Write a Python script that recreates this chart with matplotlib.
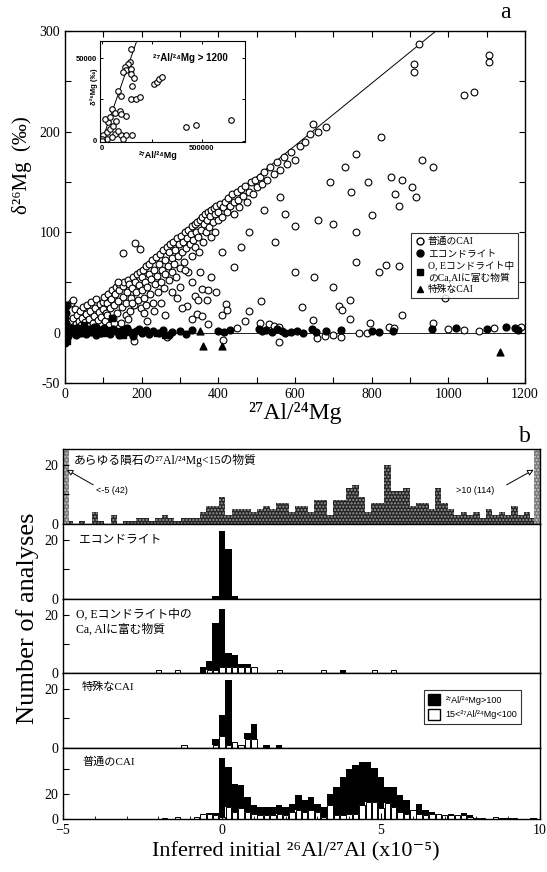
import numpy as np
import matplotlib
matplotlib.use("Agg")
import matplotlib.pyplot as plt
from matplotlib.lines import Line2D
from matplotlib.patches import Patch

SERIF = ['Liberation Serif', 'DejaVu Serif', 'Noto Sans CJK JP']
SANS = ['Liberation Sans', 'DejaVu Sans', 'Noto Sans CJK JP']
plt.rcParams['font.family'] = SERIF

# ---------------- panel a data ----------------
slope_main = 0.31       # isochron drawn in panel a
slope_inset = 0.347

cai_pts = [  # normal CAI (open circles)
    (5, 2), (8, 8), (12, 4), (14, 12), (15, 30), (18, 6), (20, 33), (22, 15), (25, 24), (28, 9),
    (30, 18), (33, 6), (36, 12), (38, 22), (42, 8), (45, 15), (48, 26), (50, 4), (52, 11), (55, 19),
    (58, 28), (60, 7), (63, 14), (66, 22), (68, 31), (72, 10), (75, 17), (78, 25), (80, 34), (82, 6),
    (85, 13), (88, 21), (90, 29), (95, 16), (98, 31), (100, 24),
    (102, 36), (105, 12), (108, 20), (110, 30), (112, 38), (115, 8), (118, 25), (120, 34), (122, 42),
    (125, 15), (128, 28), (130, 38), (132, 45), (135, 20), (138, 32), (140, 42), (142, 48), (145, 10),
    (148, 26), (150, 36), (152, 46), (155, 50), (158, 18), (160, 30), (162, 40), (165, 52), (168, 48),
    (170, 22), (172, 35), (175, 44), (178, 55), (180, 28), (182, 50), (185, 40), (188, 58), (190, 33),
    (192, 47), (195, 60), (198, 25), (200, 42), (200, 55),
    (203, 62), (205, 35), (208, 50), (210, 66), (212, 28), (215, 45), (218, 58), (220, 68), (222, 38),
    (225, 53), (228, 72), (230, 30), (232, 62), (235, 48), (238, 75), (240, 56), (242, 40), (245, 68),
    (248, 78), (250, 50), (252, 62), (255, 82), (258, 44), (260, 72), (262, 58), (265, 85), (268, 66),
    (270, 52), (272, 80), (275, 88), (278, 60), (280, 74), (282, 90), (285, 68), (288, 82), (290, 55),
    (292, 94), (295, 76), (298, 88), (300, 64),
    (302, 96), (305, 80), (308, 90), (310, 70), (312, 100), (315, 84), (318, 94), (320, 60), (322, 102),
    (325, 88), (328, 98), (330, 76), (332, 106), (335, 92), (338, 108), (340, 85), (342, 100), (345, 110),
    (348, 95), (350, 80), (352, 112), (355, 102), (358, 115), (360, 90), (362, 108), (365, 118), (368, 100),
    (370, 112), (372, 120), (375, 105), (378, 116), (380, 95), (382, 122), (385, 110), (388, 124), (390, 100),
    (392, 118), (395, 126), (398, 112), (400, 120),
    (405, 128), (410, 115), (412, 125), (418, 130), (422, 120), (425, 134), (430, 126), (435, 138),
    (440, 118), (442, 130), (448, 140), (452, 132), (455, 125), (460, 143), (465, 136), (470, 146),
    (475, 130), (480, 140), (485, 150), (490, 138), (495, 152), (500, 145), (508, 155), (515, 148),
    (520, 160), (528, 152), (535, 165), (545, 158), (552, 170), (560, 162), (570, 175), (580, 168),
    (590, 180), (600, 172), (612, 186), (625, 190), (640, 198), (661, 200), (680, 205),
    (152, 79), (183, 89), (196, 83), (440, 65), (548, 90), (838, 67), (313, 62), (352, 60), (292, 35),
    (318, 27), (339, 37), (348, 33), (357, 43), (374, 42), (370, 33), (344, 19), (357, 17), (374, 9),
    (409, 18), (419, 29), (422, 23), (448, 5), (470, 12), (481, 22), (512, 32), (618, 26), (648, 13),
    (714, 27), (722, 23), (744, 33), (744, 14), (796, 10), (559, -9), (413, -7), (657, -5), (679, -3),
    (700, -2), (720, -4), (180, -8), (265, -4), (768, 0), (788, 0), (844, 6), (857, 5), (509, 10),
    (531, 9), (544, 7), (557, 6),
    (924, 287), (911, 267), (911, 259), (1107, 276), (1107, 269), (1068, 239), (1040, 236), (648, 208),
    (825, 195), (760, 178), (730, 165), (690, 150), (660, 112), (700, 108), (745, 140), (760, 100),
    (790, 150), (800, 117), (850, 155), (860, 138), (872, 126), (880, 152), (905, 145), (915, 135),
    (930, 172), (960, 165), (990, 35), (600, 106), (575, 118), (560, 135), (520, 122), (480, 100),
    (460, 85), (600, 60), (650, 55), (700, 45), (760, 70), (820, 60), (870, 66), (880, 18), (960, 10),
    (1000, 4), (1040, 3), (1080, 2), (1120, 5), (1190, 6),
    (110, 18), (128, 10), (138, 50), (165, 14), (176, 30), (205, 20), (215, 12), (232, 22), (250, 30),
    (262, 18), (278, 40), (300, 45), (305, 25), (330, 50), (332, 14), (380, 55), (395, 40), (410, 80),
]

achon_pts = [  # achondrites (filled circles)
    (0, -10), (2, -5), (1, 5), (3, 10), (0, 15), (2, 20), (1, 25), (4, 28),
    (2, 0), (8, -3), (15, 4), (22, 1), (28, -2), (35, 5), (42, 0), (48, 3), (55, -1), (62, 4),
    (68, 1), (75, 6), (82, -2), (88, 3), (95, 0), (102, 5), (110, 1), (118, -1), (125, 4), (132, 2),
    (140, -2), (148, 3), (155, 0), (162, 5), (170, 1), (178, -3), (185, 2), (192, 4), (200, 0),
    (210, 3), (220, -1), (230, 2), (245, 0), (255, 3), (270, -2), (280, 1), (300, 2), (315, -1),
    (330, 3), (400, 2), (415, 1), (430, 3), (505, 4), (515, 2), (525, 3), (540, 1), (552, 4),
    (565, 2), (575, 0), (590, 1), (605, 2), (620, 0), (645, 4), (655, 1), (680, 2), (720, 3),
    (800, 2), (818, 1), (855, 2), (958, 4), (1020, 5), (1100, 4), (1150, 6), (1175, 5), (1183, 3),
]

oe_pts = [  # O, E chondrite Ca-Al rich objects (filled squares)
    (5, -8), (10, 2), (20, 5), (30, 0), (40, 3), (50, 8), (60, 2), (80, 5), (100, 0),
    (120, 3), (122, 15), (150, -2), (240, 0), (260, -2),
]

special_pts = [(361, -13), (410, -13), (353, 2), (1136, -19)]  # special CAI (triangles)

inset_pts = [
    (143600, 55700), (138600, 47800), (130300, 46800), (113900, 44800), (122100, 42800),
    (146800, 43800), (105700, 41800), (146800, 40500), (158400, 37900), (151800, 32900),
    (80900, 29900), (97400, 27000), (146800, 25400), (168300, 25400), (193100, 26600),
    (262400, 34500), (275600, 35900), (287100, 37300), (303500, 38900), (48000, 19000),
    (64400, 17100), (89100, 18000), (122100, 15100), (97400, 16100), (424000, 8100),
    (473500, 9500), (650000, 12700), (6600, 3200), (23100, 5200), (39600, 7100), (56100, 9100),
    (31300, 11100), (14900, 13100), (39600, 14100), (72600, 12100), (64400, 4200), (97400, 3200),
    (122100, 3600), (151800, 3600), (105700, 1200), (80900, 6100), (23100, 1200), (1000, 1200),
    (47800, 2200), (2000, 0),
]

# ---------------- panel b data (bin centres -5.0 ... 10.0, step 0.2) ----------------
bin_centres = np.round(np.arange(76) * 0.2 - 5.0, 1)

all_low = [42, 1, 0, 1, 0, 4, 1, 0, 3, 0, 1, 1, 2, 2, 1, 2, 3, 2, 1, 2,
           2, 2, 4, 6, 6, 9, 3, 5, 5, 5, 4, 5, 6, 5, 7, 7, 4, 6, 6, 4,
           8, 8, 3, 8, 8, 12, 13, 9, 4, 7, 7, 20, 11, 11, 12, 6, 7, 7, 5, 12,
           7, 5, 3, 4, 3, 4, 2, 5, 3, 4, 3, 6, 3, 4, 2, 114]

achon_x = [-0.2, 0.0, 0.2, 0.4]
achon_black = [1, 23, 17, 1]

oe_x = [-2.0, -1.4, -0.6, -0.4, -0.2, 0.0, 0.2, 0.4, 0.6, 0.8, 1.0, 1.8, 3.2, 3.8, 4.8, 5.4]
oe_white = [1, 1, 0, 1, 1, 2, 2, 2, 2, 2, 2, 1, 1, 0, 1, 1]
oe_black = [0, 0, 2, 3, 16, 20, 5, 4, 1, 1, 0, 0, 0, 1, 0, 0]

spec_x = [-1.2, -0.2, 0.0, 0.2, 0.4, 0.6, 0.8, 1.0, 1.4, 1.8]
spec_white = [1, 1, 4, 1, 2, 1, 3, 3, 0, 0]
spec_black = [0, 2, 7, 22, 0, 0, 2, 5, 1, 1]

norm_x = [-1.8, -1.4, -0.8, -0.6, -0.4, -0.2, 0.0, 0.2, 0.4, 0.6, 0.8, 1.0, 1.2, 1.4, 1.6, 1.8,
          2.0, 2.2, 2.4, 2.6, 2.8, 3.0, 3.2, 3.4, 3.6, 3.8, 4.0, 4.2, 4.4, 4.6, 4.8, 5.0,
          5.2, 5.4, 5.6, 5.8, 6.0, 6.2, 6.4, 6.6, 6.8, 7.0, 7.2, 7.4, 7.6, 7.8, 8.0, 8.2,
          8.6, 8.8, 9.0, 9.2, 9.8]
norm_white = [1, 2, 2, 4, 4, 3, 2, 10, 6, 9, 6, 4, 3, 3, 3, 4,
              3, 6, 7, 6, 7, 6, 2, 11, 3, 3, 4, 4, 11, 14, 14, 9,
              13, 10, 6, 4, 7, 4, 3, 4, 4, 3, 3, 3, 3, 2, 1, 1,
              2, 1, 1, 1, 0]
norm_black = [0, 0, 0, 0, 1, 2, 47, 32, 22, 18, 12, 7, 7, 7, 7, 7,
              7, 6, 12, 9, 11, 6, 8, 9, 23, 31, 36, 39, 35, 32, 27, 25,
              13, 16, 13, 11, 0, 8, 4, 2, 0, 0, 1, 0, 2, 1, 0, 0,
              0, 0, 0, 0, 1]

# ---------------- figure ----------------
W, H = 547, 872
fig = plt.figure(figsize=(W / 100, H / 100), dpi=100)


def fig_rect(x0, y0, x1, y1):
    return [x0 / W, 1 - y1 / H, (x1 - x0) / W, (y1 - y0) / H]


# panel a
ax = fig.add_axes(fig_rect(65, 31, 525, 383))
ax.set_xlim(0, 1200)
ax.set_ylim(-50, 300)
ax.plot([0, 1200], [0, slope_main * 1200], color='black', lw=0.7, zorder=1)
ax.axhline(0, color='black', lw=0.6, zorder=1)

p = np.array(cai_pts)
ax.scatter(p[:, 0], p[:, 1], s=24, facecolor='white', edgecolor='black', lw=0.8, zorder=2)
p = np.array(achon_pts)
ax.scatter(p[:, 0], p[:, 1], s=24, color='black', zorder=3)
p = np.array(oe_pts)
ax.scatter(p[:, 0], p[:, 1], s=24, marker='s', color='black', zorder=3)
p = np.array(special_pts)
ax.scatter(p[:, 0], p[:, 1], s=24, marker='^', color='black', zorder=3)

ax.set_xticks(np.arange(0, 1201, 100))
ax.set_xticklabels([str(v) if v % 200 == 0 else '' for v in range(0, 1201, 100)])
ax.set_yticks(np.arange(-50, 301, 50))
ax.set_yticklabels(['-50', '0', '', '100', '', '200', '', '300'])
ax.tick_params(direction='in', top=True, right=True, labelsize=10, length=4, width=0.8)
for s in ax.spines.values():
    s.set_linewidth(1.0)

leg_handles = [
    Line2D([], [], ls='none', marker='o', mfc='white', mec='black', ms=5),
    Line2D([], [], ls='none', marker='o', color='black', ms=5),
    Line2D([], [], ls='none', marker='s', color='black', ms=5),
    Line2D([], [], ls='none', marker='^', color='black', ms=5),
]
leg_labels = ['普通のCAI', 'エコンドライト', 'O, Eコンドライト中\nのCa,Alに富む物質', '特殊なCAI']
leg = ax.legend(leg_handles, leg_labels, loc='upper right', bbox_to_anchor=(0.995, 0.44),
                prop={'family': SERIF, 'size': 7}, frameon=True, fancybox=False,
                handletextpad=0.3, handlelength=1.0, labelspacing=0.3, borderpad=0.4)
leg.get_frame().set_edgecolor('black')
leg.get_frame().set_linewidth(0.8)

fig.text(0.04, 1 - 165 / H, 'δ²⁶Mg  (‰)', rotation=90, ha='center', va='center', fontsize=15)
fig.text(0.54, 1 - 413 / H, '²⁷Al/²⁴Mg', ha='center', va='center', fontsize=17)
fig.text(505 / W, 1 - 12 / H, 'a', ha='center', va='center', fontsize=17)
fig.text(525 / W, 1 - 437 / H, 'b', ha='center', va='center', fontsize=17)

# inset
axi = fig.add_axes(fig_rect(100, 41, 245, 142))
axi.set_xlim(-10000, 718000)
axi.set_ylim(-800, 60500)
axi.plot([0, 200000], [0, slope_inset * 200000], color='black', lw=0.7)
p = np.array(inset_pts)
axi.scatter(p[:, 0], p[:, 1], s=16, facecolor='white', edgecolor='black', lw=0.8, zorder=2)
axi.set_xticks([0, 250000, 500000])
axi.set_xticklabels(['0', '', '500000'], fontsize=5.5, family=SANS, fontweight='bold')
axi.set_yticks([0, 25000, 50000])
axi.set_yticklabels(['0', '', '50000'], fontsize=5.5, family=SANS, fontweight='bold')
axi.tick_params(direction='in', length=2.5, width=0.7, pad=2, right=True, top=True)
axi.text(0.62, 0.83, '²⁷Al/²⁴Mg > 1200', transform=axi.transAxes, ha='center', va='center',
         fontsize=7, family=SANS, fontweight='bold')
axi.text(0.4, -0.13, '²⁷Al/²⁴Mg', transform=axi.transAxes, ha='center', va='center',
         fontsize=6.5, family=SANS, fontweight='bold')
axi.text(-0.04, 0.55, 'δ²⁶Mg (‰)', transform=axi.transAxes, rotation=90, ha='center', va='center',
         fontsize=5.5, family=SANS, fontweight='bold')

# panel b
tops = [449, 524, 599, 673, 748, 819]
hax = [fig.add_axes(fig_rect(63, tops[i], 540, tops[i + 1])) for i in range(5)]
W_BIN = 0.2

# top: all meteorites with 27Al/24Mg < 15
a0 = hax[0]
mid = np.array(all_low[1:-1])
a0.bar(bin_centres[1:-1], mid, width=W_BIN, color='#262626', edgecolor='#9a9a9a',
       hatch='.....', lw=0)
a0.bar(-5.0, all_low[0], width=W_BIN, align='edge', color='#7a7a7a', edgecolor='#c8c8c8',
       hatch='.....', lw=0)
a0.bar(10.0, all_low[-1], width=-W_BIN, align='edge', color='#7a7a7a', edgecolor='#c8c8c8',
       hatch='.....', lw=0)
a0.text(-4.65, 21.5, 'あらゆる隕石の²⁷Al/²⁴Mg<15の物質', fontsize=8.5, family=SERIF, va='center')
arrow_kw = dict(arrowstyle='-|>', fc='white', ec='black', lw=0.7, shrinkA=0, shrinkB=0,
                mutation_scale=9)
a0.annotate('', xy=(-4.88, 18.3), xytext=(-4.05, 13.2), arrowprops=arrow_kw)
a0.text(-3.95, 11.3, '<-5 (42)', fontsize=6.5, family=SANS, va='center')
a0.annotate('', xy=(9.8, 18.3), xytext=(8.95, 13.2), arrowprops=arrow_kw)
a0.text(7.35, 11.3, '>10 (114)', fontsize=6.5, family=SANS, va='center')

# achondrites
hax[1].bar(achon_x, achon_black, width=W_BIN, color='black')
hax[1].text(-4.5, 20, 'エコンドライト', fontsize=8.5, family=SERIF, va='center')


def stacked(axh, xs, white, black):
    axh.bar(xs, white, width=W_BIN * 0.85, color='white', edgecolor='black', lw=0.7)
    axh.bar(xs, black, bottom=white, width=W_BIN, color='black', lw=0)


stacked(hax[2], oe_x, oe_white, oe_black)
hax[2].text(-4.6, 17.5, 'O, Eコンドライト中の\nCa, Alに富む物質', fontsize=8.5, family=SERIF,
            va='center', linespacing=1.3)

stacked(hax[3], spec_x, spec_white, spec_black)
hax[3].text(-4.4, 20.5, '特殊なCAI', fontsize=8, family=SERIF, va='center')
lg = hax[3].legend([Patch(facecolor='black', edgecolor='black'),
                    Patch(facecolor='white', edgecolor='black')],
                   ['²⁷Al/²⁴Mg>100', '15<²⁷Al/²⁴Mg<100'], loc='upper right',
                   bbox_to_anchor=(0.97, 0.83), prop={'family': SANS, 'size': 6.5},
                   fancybox=False, handlelength=1.4, handleheight=1.6, labelspacing=0.35,
                   borderpad=0.4, handletextpad=0.6)
lg.get_frame().set_edgecolor('black')
lg.get_frame().set_linewidth(0.8)

stacked(hax[4], norm_x, norm_white, norm_black)
hax[4].text(-4.4, 46, '普通のCAI', fontsize=8, family=SERIF, va='center')

for i, axh in enumerate(hax):
    axh.set_xlim(-5, 10)
    if i < 4:
        axh.set_ylim(0, 25.3)
        axh.set_yticks([0, 10, 20])
        axh.set_yticklabels(['0', '', '20'])
    else:
        axh.set_ylim(0, 57)
        axh.set_yticks([0, 20, 40])
        axh.set_yticklabels(['0', '20', ''])
    axh.set_xticks([-5, 0, 5, 10])
    axh.set_xticks(np.arange(-5, 11, 1), minor=True)
    axh.tick_params(direction='in', labelsize=10, length=4, width=0.8)
    axh.tick_params(which='minor', direction='in', length=2)
    if i < 4:
        axh.tick_params(labelbottom=False, bottom=False, which='both')
    for s in axh.spines.values():
        s.set_linewidth(1.0)

fig.text(0.05, 1 - 618 / H, 'Number of analyses', rotation=90, ha='center', va='center',
         fontsize=19)
fig.text(296 / W, 1 - 852 / H, 'Inferred initial ²⁶Al/²⁷Al (x10⁻⁵)', ha='center', va='center',
         fontsize=16)

fig.savefig('out.png', dpi=100)
